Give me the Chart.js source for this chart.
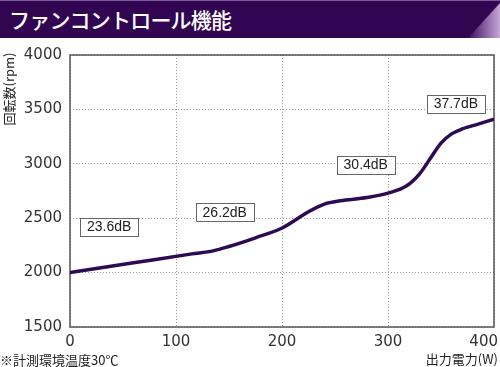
<!DOCTYPE html>
<html><head><meta charset="utf-8">
<script src="https://cdn.jsdelivr.net/npm/chart.js@4.4.0/dist/chart.umd.min.js"></script>
<style>
html,body{margin:0;padding:0;background:#fff;}
#wrap{position:relative;width:500px;height:367px;overflow:hidden;}
#banner{position:absolute;left:0;top:0;width:500px;height:38px;background:#320552;border-top:1px solid #7a5a9a;box-sizing:border-box;}
#banner .t{position:absolute;left:9px;top:4px;color:#fff;font:500 21px "Noto Sans CJK JP";line-height:28px;letter-spacing:-0.8px;white-space:nowrap}
#banner .c{position:absolute;right:0;bottom:0;width:32px;height:35px;background:linear-gradient(to right,#3c0c5c,#c8a8d8);clip-path:polygon(100% 0,100% 100%,0 100%);}
canvas{position:absolute;left:0;top:0}
</style></head>
<body><div id="wrap"><canvas id="c" width="500" height="367"></canvas><div id="banner"><span class="t">ファンコントロール機能</span><span class="c"></span></div></div>
<script>
// Data
const powerW = [0, 60, 115, 135, 150, 175, 200, 225, 240, 255, 280, 300, 318, 330, 340, 350, 360, 370, 385, 400];
const rpm    = [2000, 2090, 2172, 2200, 2240, 2320, 2410, 2560, 2630, 2660, 2690, 2730, 2800, 2910, 3050, 3190, 3275, 3320, 3365, 3410];
const xTicks = [0, 100, 200, 300, 400];
const yTicks = [1500, 2000, 2500, 3000, 3500, 4000];
const noiseLabels = ['23.6dB', '26.2dB', '30.4dB', '37.7dB'];
const noiseAtW    = [37, 146, 279, 364];
const noiseAtRpm  = [2423, 2560, 2993, 3553];
const yTitle = '回転数(rpm)';
const xTitle = '出力電力(W)';
const note = '※計測環境温度30℃';

const tickFont = '15px "DejaVu Sans"';
const textColor = '#333';

const extras = {
  id: 'extras',
  beforeDatasetsDraw(chart) {
    const {ctx, chartArea: a} = chart;
    ctx.save();
    ctx.strokeStyle = '#555';
    ctx.lineWidth = 1.5;
    ctx.strokeRect(a.left, a.top, a.right - a.left, a.bottom - a.top);
    ctx.restore();
  },
  afterDatasetsDraw(chart) {
    const {ctx, chartArea: a, scales: {x, y}} = chart;
    ctx.save();
    // x tick labels
    ctx.font = tickFont;
    ctx.fillStyle = textColor;
    ctx.textBaseline = 'middle';
    xTicks.forEach(v => {
      const px = x.getPixelForValue(v);
      const w = ctx.measureText(String(v)).width;
      let left = px - w / 2;
      if (left + w > 498) left = 498 - w;
      ctx.textAlign = 'left';
      ctx.fillText(String(v), left, a.bottom + 15);
    });
    // noise boxes
    ctx.font = '14px "Liberation Sans"';
    noiseLabels.forEach((t, i) => {
      const cx = x.getPixelForValue(noiseAtW[i]);
      const cy = y.getPixelForValue(noiseAtRpm[i]);
      const w = ctx.measureText(t).width + 14;
      const h = 18;
      ctx.fillStyle = '#fff';
      ctx.fillRect(cx - w / 2, cy - h / 2, w, h);
      ctx.strokeStyle = '#666';
      ctx.lineWidth = 1;
      ctx.strokeRect(Math.round(cx - w / 2) + 0.5, Math.round(cy - h / 2) + 0.5, Math.round(w), h);
      ctx.fillStyle = '#222';
      ctx.textAlign = 'center';
      ctx.textBaseline = 'middle';
      ctx.fillText(t, cx, cy + 1);
    });
    // titles
    ctx.fillStyle = '#222';
    ctx.font = '13px "Noto Sans CJK JP"';
    ctx.textAlign = 'right';
    ctx.textBaseline = 'middle';
    ctx.fillText(xTitle, 498, 359);
    ctx.textAlign = 'left';
    ctx.fillText(note, 0, 360);
    ctx.save();
    ctx.translate(9, 89);
    ctx.rotate(-Math.PI / 2);
    ctx.textAlign = 'center';
    ctx.fillText(yTitle, 0, 0);
    ctx.restore();
    ctx.restore();
  }
};

new Chart(document.getElementById('c'), {
  type: 'line',
  data: {
    datasets: [{
      data: powerW.map((w, i) => ({x: w, y: rpm[i]})),
      borderColor: '#2e0a52',
      borderWidth: 3.5,
      pointRadius: 0,
      cubicInterpolationMode: 'monotone',
      fill: false
    }]
  },
  options: {
    responsive: false,
    animation: false,
    layout: {padding: {top: 55, right: 6, bottom: 0, left: 0}},
    plugins: {legend: {display: false}, tooltip: {enabled: false}},
    scales: {
      x: {
        type: 'linear', min: 0, max: 400,
        afterBuildTicks: s => { s.ticks = xTicks.map(v => ({value: v})); },
        afterFit: s => { s.height = 40; },
        ticks: {display: false},
        grid: {color: '#999', lineWidth: 1, drawTicks: false},
        border: {display: false, dash: [1, 2]}
      },
      y: {
        min: 1500, max: 4000,
        afterBuildTicks: s => { s.ticks = yTicks.map(v => ({value: v})); },
        afterFit: s => { s.width = 70; },
        ticks: {font: {family: 'DejaVu Sans', size: 15}, color: textColor, padding: 8, callback: v => String(v)},
        grid: {color: '#999', lineWidth: 1, drawTicks: false},
        border: {display: false, dash: [1, 2]}
      }
    }
  },
  plugins: [extras]
});
</script>
</body></html>
